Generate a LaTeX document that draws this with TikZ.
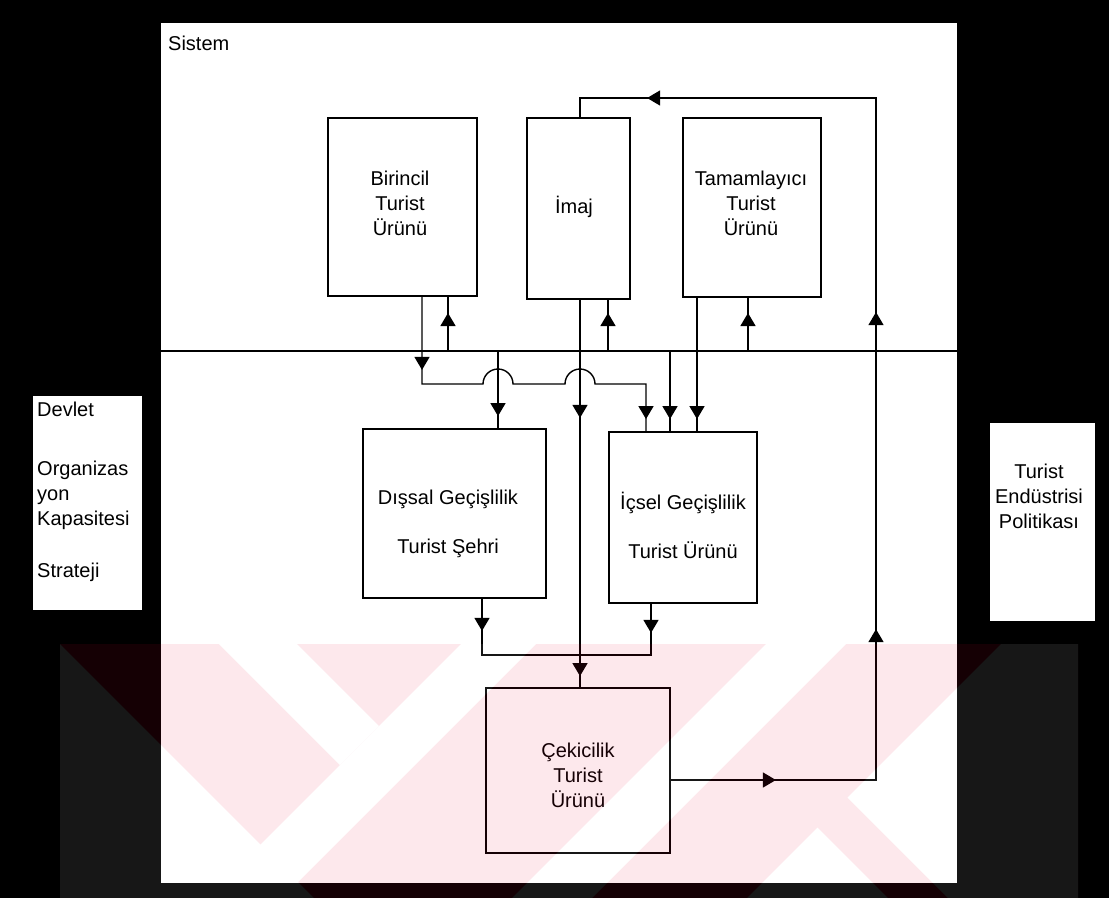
\documentclass[tikz,border=0pt]{standalone}
\usepackage{fontspec}
\setmainfont{Liberation Sans}
\usetikzlibrary{arrows.meta,decorations.markings,calc}

\definecolor{stamp}{RGB}{233,0,45}

\tikzset{
  lbl/.style={font=\fontsize{20}{25}\selectfont, inner sep=0pt, align=center},
  box/.style={draw=black, line width=1.8pt, fill=white, inner sep=0pt},
  panel/.style={fill=white, draw=none, inner sep=0pt},
  link/.style={draw=black, line width=1.4pt},
  tipat/.style={postaction={decorate,decoration={markings,
      mark=at position #1 with {\arrow{Triangle[width=15pt,length=13pt]}}}}},
}

\begin{document}
\begin{tikzpicture}[x=1pt,y=1pt]
  % page and panels
  \fill[black] (0,0) rectangle (1109,-898);
  \useasboundingbox (0,0) rectangle (1109,-898);
  \fill[white] (161,-23) rectangle (957,-883);
  \node[panel, minimum width=109pt, minimum height=214pt] (left) at (87.5,-503) {};
  \node[panel, minimum width=105pt, minimum height=198pt] (right) at (1042.5,-522) {};

  \node[lbl, anchor=west] (sistem) at (168,-43) {Sistem};

  \node[lbl, anchor=north west, align=left] (lefttext) at (37,-402)
    {Devlet\\[34pt]Organizas\\yon\\Kapasitesi\\[27pt]Strateji};
  \node[lbl] (righttext) at (1039,-496) {Turist\\Endüstrisi\\Politikası};

  % lane and row coordinates
  \coordinate (laneA) at (422,0);
  \coordinate (laneB) at (448,0);
  \coordinate (laneC) at (498,0);
  \coordinate (laneD) at (580,0);
  \coordinate (laneE) at (608,0);
  \coordinate (laneF) at (646,0);
  \coordinate (laneG) at (670,0);
  \coordinate (laneH) at (697,0);
  \coordinate (laneI) at (748,0);
  \coordinate (laneJ) at (876,0);
  \coordinate (laneK) at (482,0);
  \coordinate (laneL) at (651,0);
  \coordinate (rowTop) at (0,-98);
  \coordinate (rowBus) at (0,-351);
  \coordinate (rowHop) at (0,-384);
  \coordinate (rowMerge) at (0,-655);
  \coordinate (rowOut) at (0,-780);

  % boxes
  \node[box, minimum width=149pt, minimum height=178pt] (bir) at (402.5,-207) {};
  \node[box, minimum width=103pt, minimum height=181pt] (imaj) at (578.5,-208.5) {};
  \node[box, minimum width=138pt, minimum height=179pt] (tam) at (752,-207.5) {};
  \node[box, minimum width=183pt, minimum height=169pt] (dis) at (454.5,-513.5) {};
  \node[box, minimum width=148pt, minimum height=171pt] (ic) at (683,-517.5) {};
  \node[box, minimum width=184pt, minimum height=165pt] (cek) at (578,-770.5) {};

  \node[lbl] (birT) at (400,-203) {Birincil\\Turist\\Ürünü};
  \node[lbl] (imajT) at (574,-207) {İmaj};
  \node[lbl] (tamT) at (751,-203) {Tamamlayıcı\\Turist\\Ürünü};
  \node[lbl] (disT) at (448,-524) {Dışsal Geçişlilik\\[24pt]Turist Şehri};
  \node[lbl] (icT) at (683,-525) {İçsel Geçişlilik\\[24pt]Turist Ürünü};
  \node[lbl] (cekT) at (578,-775) {Çekicilik\\Turist\\Ürünü};

  % bus line across the system
  \coordinate (busL) at (161,-351);
  \coordinate (busR) at (957,-351);
  \draw[link] (busL) -- (busR);

  % connectors
  \draw[link, tipat=73pt, tipat=-12pt]
    (bir.south -| laneA) -- (rowHop -| laneA)
    -- ($(rowHop -| laneC)+(-15,0)$) arc[start angle=180,end angle=0,radius=15pt]
    -- ($(rowHop -| laneD)+(-15,0)$) arc[start angle=180,end angle=0,radius=15pt]
    -- (rowHop -| laneF) -- (ic.north -| laneF);
  \draw[link, tipat=38pt] (rowBus -| laneB) -- (bir.south -| laneB);
  \draw[link, tipat=118pt, tipat=-11pt] (imaj.south -| laneD) -- (cek.north -| laneD);
  \draw[link, tipat=38pt] (rowBus -| laneE) -- (imaj.south -| laneE);
  \draw[link, tipat=-12pt] (tam.south -| laneH) -- (ic.north -| laneH);
  \draw[link, tipat=-12pt] (rowBus -| laneG) -- (ic.north -| laneG);
  \draw[link, tipat=38pt] (rowBus -| laneI) -- (tam.south -| laneI);
  \draw[link, tipat=-12pt] (rowBus -| laneC) -- (dis.north -| laneC);
  \draw[link, tipat=32pt] (dis.south -| laneK) -- (rowMerge -| laneK) -- (rowMerge -| laneD);
  \draw[link, tipat=29pt] (ic.south -| laneL) -- (rowMerge -| laneL) -- (rowMerge -| laneD);
  \draw[link, tipat=105pt, tipat=356pt, tipat=673pt, tipat=1116pt]
    (cek.east |- rowOut) -- (rowOut -| laneJ) -- (rowTop -| laneJ)
    -- (rowTop -| laneD) -- (imaj.north -| laneD);

  % faint diagonal stamp over the lower band
  \begin{scope}[transparency group, opacity=0.09]
    \clip (60,-644) rectangle (1078,-898);
    \fill[stamp] (60,-644) rectangle (1078,-898);
    \fill[white] (60,-644) -- (314,-898) -- (60,-898) -- cycle;
    \fill[white] (219,-644) -- (297,-644) -- (379,-726) -- (340,-765) -- cycle;
    \fill[white] (461,-644) -- (536,-644) -- (282,-898) -- (207,-898) -- cycle;
    \fill[white] (766,-644) -- (846,-644) -- (592,-898) -- (512,-898) -- cycle;
    \fill[white] (817.5,-827.5) -- (888,-898) -- (747,-898) -- cycle;
    \fill[white] (847.5,-797.5) -- (1001,-644) -- (1078,-644) -- (1078,-898) -- (948,-898) -- cycle;
  \end{scope}
\end{tikzpicture}
\end{document}
